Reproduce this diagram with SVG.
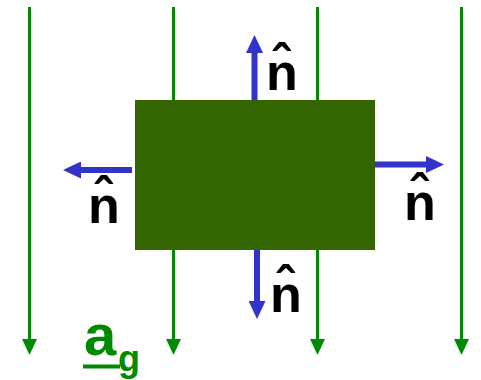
<svg xmlns="http://www.w3.org/2000/svg" width="481" height="380" viewBox="0 0 481 380">
<style>
.g{stroke:#008a00;stroke-width:3;fill:none}
.b{stroke:#3333cc;stroke-width:6;fill:none}
.n{font-family:"Liberation Sans",Arial,sans-serif;font-weight:bold;font-size:52px;fill:#000}
.ag{font-family:"Liberation Sans",Arial,sans-serif;font-weight:bold;fill:#008a00}
</style>
<defs>
<marker id="gh" markerUnits="userSpaceOnUse" markerWidth="16" markerHeight="15" viewBox="0 0 16 15" refX="0" refY="7.5" orient="auto">
<path d="M0,0 L16,7.5 L0,15 z" fill="#008a00"/>
</marker>
<marker id="bh" markerUnits="userSpaceOnUse" markerWidth="18" markerHeight="17" viewBox="0 0 18 17" refX="0" refY="8.5" orient="auto">
<path d="M0,0 L18,8.5 L0,17 z" fill="#3333cc"/>
</marker>
</defs>
<g id="field">
<line class="g" x1="29.5" y1="7" x2="29.5" y2="339" marker-end="url(#gh)"/>
<line class="g" x1="173.5" y1="7" x2="173.5" y2="339" marker-end="url(#gh)"/>
<line class="g" x1="317.5" y1="7" x2="317.5" y2="339" marker-end="url(#gh)"/>
<line class="g" x1="461.5" y1="7" x2="461.5" y2="339" marker-end="url(#gh)"/>
</g>
<g id="block">
<rect x="135" y="100" width="240" height="150" fill="#336600"/>
</g>
<g id="connectors">
<line class="b" x1="254.5" y1="100" x2="254.5" y2="53" marker-end="url(#bh)"/>
<line class="b" x1="132" y1="170" x2="81" y2="170" marker-end="url(#bh)"/>
<line class="b" x1="375" y1="164.5" x2="426" y2="164.5" marker-end="url(#bh)"/>
<line class="b" x1="257" y1="250" x2="257" y2="301" marker-end="url(#bh)"/>
</g>
<g id="labels">
<text class="n" x="266" y="90">n&#x302;</text>
<text class="n" x="88" y="223">n&#x302;</text>
<text class="n" x="404" y="220">n&#x302;</text>
<text class="n" x="270" y="312">n&#x302;</text>
</g>
<g id="ag-label">
<text class="ag" x="84" y="355" font-size="58">a</text>
<text class="ag" x="118" y="371" font-size="36">g</text>
<line x1="83" y1="366.5" x2="120" y2="366.5" stroke="#008a00" stroke-width="4"/>
</g>
</svg>
